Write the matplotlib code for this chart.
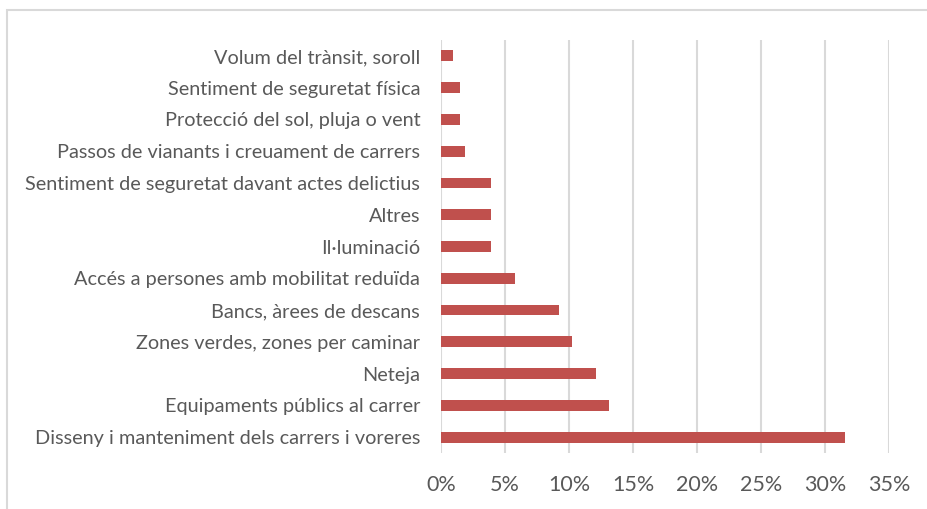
import matplotlib
matplotlib.use('Agg')
import matplotlib.pyplot as plt
from matplotlib.patches import Rectangle
from matplotlib.ticker import FuncFormatter

# categories bottom -> top (same order as the axis)
categories = [
    'Disseny i manteniment dels carrers i voreres',
    'Equipaments públics al carrer',
    'Neteja',
    'Zones verdes, zones per caminar',
    'Bancs, àrees de descans',
    'Accés a persones amb mobilitat reduïda',
    'Il·luminació',
    'Altres',
    'Sentiment de seguretat davant actes delictius',
    'Passos de vianants i creuament de carrers',
    'Protecció del sol, pluja o vent',
    'Sentiment de seguretat física',
    'Volum del trànsit, soroll',
]
percent = [31.6, 13.1, 12.1, 10.2, 9.2, 5.8, 3.9, 3.9, 3.9, 1.9, 1.5, 1.5, 0.95]
xticks = [0, 5, 10, 15, 20, 25, 30, 35]

bar_color = '#C0504D'
text_color = '#595959'
grid_color = '#D9D9D9'

plt.rcParams['font.family'] = ['Lato', 'DejaVu Sans']

fig = plt.figure(figsize=(9.28, 5.09), dpi=100)
ax = fig.add_axes([441 / 928, 1 - 453 / 509, (889 - 441) / 928, (453 - 40) / 509])

y = list(range(len(categories)))
ax.barh(y, percent, height=0.34, color=bar_color, zorder=3)

ax.set_xlim(0, 35)
ax.set_ylim(-0.5, len(categories) - 0.5)
ax.set_xticks(xticks)
ax.xaxis.set_major_formatter(FuncFormatter(lambda v, p: '%d%%' % v))
ax.set_yticks(y)
ax.set_yticklabels(categories)

ax.grid(axis='x', color=grid_color, linewidth=1.5, zorder=0)
for s in ax.spines.values():
    s.set_visible(False)
ax.tick_params(axis='x', length=0, pad=16, labelsize=15.5, labelcolor=text_color)
ax.tick_params(axis='y', length=0, pad=15, labelsize=14.3, labelcolor=text_color)

# outer chart frame
fig.patches.append(Rectangle((7 / 928, -0.1), 1.2, 1 - 10 / 509 + 0.1,
                             transform=fig.transFigure, fill=False,
                             edgecolor=grid_color, linewidth=1.5))

fig.savefig('out.png', dpi=100)
